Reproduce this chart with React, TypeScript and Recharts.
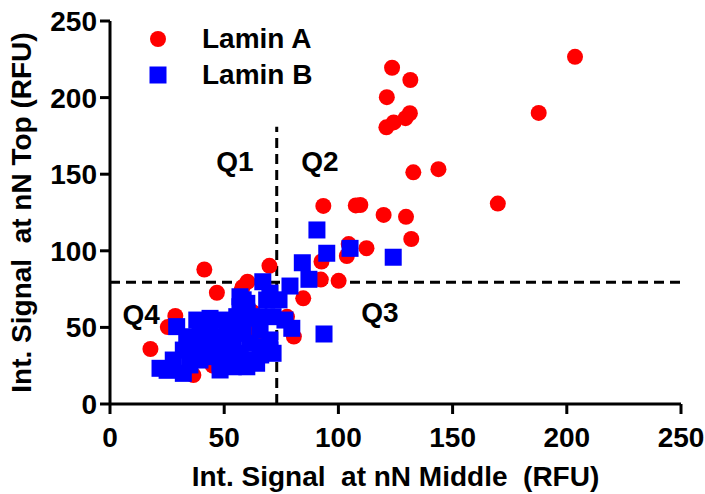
import { ScatterChart, Scatter, XAxis, YAxis, ReferenceLine, ReferenceDot, Legend } from "recharts";

// Lamin A (red circles) — x: signal at nN middle, y: signal at nN top
const laminA = [
  { x: 203.6, y: 226.6 }, { x: 187.7, y: 190 }, { x: 123.5, y: 219.5 }, { x: 131.5, y: 211.5 },
  { x: 121.2, y: 200.3 }, { x: 121, y: 180.6 }, { x: 124.2, y: 183.8 }, { x: 129.4, y: 186.6 },
  { x: 131.3, y: 189.8 }, { x: 132.8, y: 151.2 }, { x: 143.8, y: 153.3 }, { x: 169.8, y: 130.8 },
  { x: 93.4, y: 129.3 }, { x: 107.6, y: 129.6 }, { x: 109.6, y: 129.9 }, { x: 119.8, y: 123.4 },
  { x: 129.6, y: 122.2 }, { x: 131.9, y: 107.7 }, { x: 112.3, y: 101.7 }, { x: 104.5, y: 104.4 },
  { x: 103.7, y: 96.6 }, { x: 92.6, y: 93 }, { x: 92.3, y: 81.2 }, { x: 100.1, y: 80.4 },
  { x: 84.6, y: 69 }, { x: 69.8, y: 90.2 }, { x: 41.3, y: 87.8 }, { x: 46.8, y: 72.6 },
  { x: 60.2, y: 79.8 }, { x: 58, y: 76.2 }, { x: 57.6, y: 74 }, { x: 77.5, y: 56.9 },
  { x: 80.5, y: 44 }, { x: 17.7, y: 35.9 }, { x: 28.6, y: 57.5 }, { x: 25.3, y: 50.2 },
  { x: 36.5, y: 18.9 }, { x: 62.5, y: 60 }, { x: 42.5, y: 36.8 }, { x: 70, y: 73 },
  { x: 61.3, y: 46.3 }, { x: 43.8, y: 37.4 }, { x: 50, y: 45 }, { x: 55, y: 30 },
  { x: 65, y: 40 }, { x: 45, y: 25 },
];

// Lamin B (blue squares)
const laminB = [
  { x: 90.6, y: 113.6 }, { x: 94.9, y: 98.4 }, { x: 105.1, y: 101.6 }, { x: 124, y: 95.8 },
  { x: 84.2, y: 92.2 }, { x: 87.1, y: 81.4 }, { x: 78.8, y: 77 }, { x: 66.9, y: 79.8 },
  { x: 93.7, y: 45.7 }, { x: 79.6, y: 49.4 }, { x: 76.6, y: 54.8 }, { x: 56.9, y: 70 },
  { x: 59.9, y: 65.7 }, { x: 68.6, y: 67.9 }, { x: 71.4, y: 57 }, { x: 29.2, y: 50.5 },
  { x: 38, y: 54.8 }, { x: 43.8, y: 55.9 }, { x: 49.5, y: 54.8 }, { x: 33.6, y: 43.9 },
  { x: 39.4, y: 46.3 }, { x: 55.5, y: 57 }, { x: 46.7, y: 43.9 }, { x: 58.3, y: 46.1 },
  { x: 65.7, y: 48.3 }, { x: 70, y: 41.8 }, { x: 70, y: 35.2 }, { x: 21.9, y: 23.3 },
  { x: 27.7, y: 28.7 }, { x: 32.1, y: 20 }, { x: 35, y: 25.5 }, { x: 39.4, y: 28.7 },
  { x: 43.8, y: 30.9 }, { x: 48.2, y: 26.6 }, { x: 51.1, y: 35.2 }, { x: 54, y: 39.6 },
  { x: 62.7, y: 28.7 }, { x: 54, y: 24.3 }, { x: 59.9, y: 24.3 }, { x: 64.2, y: 26.6 },
  { x: 48.2, y: 22.2 }, { x: 38, y: 35.2 }, { x: 32.1, y: 35.2 }, { x: 58.3, y: 57 },
  { x: 56.9, y: 63.5 }, { x: 43.8, y: 48.3 }, { x: 61.3, y: 39.6 }, { x: 65.7, y: 37.4 },
  { x: 71.4, y: 33.1 }, { x: 56.9, y: 50.5 }, { x: 51.1, y: 46.1 }, { x: 58.3, y: 68 },
  { x: 70, y: 72.4 }, { x: 74, y: 68 }, { x: 62.2, y: 56 }, { x: 65.2, y: 57 },
  { x: 60, y: 60 }, { x: 52, y: 50 }, { x: 47, y: 38 }, { x: 40, y: 40 },
  { x: 35, y: 30 }, { x: 25, y: 22 }, { x: 45, y: 33 }, { x: 53, y: 30 },
  { x: 57, y: 33 }, { x: 66, y: 32 },
];

const axisTicks = [0, 50, 100, 150, 200, 250];
const quadrants = [
  { name: "Q1", x: 54.7, y: 158.6 },
  { name: "Q2", x: 91.9, y: 158.6 },
  { name: "Q3", x: 118.2, y: 60 },
  { name: "Q4", x: 13.6, y: 58.7 },
];
const cutX = 73;
const cutY = 79.4;
const cutXTop = 181;

const FONT = "'Liberation Sans', Arial, Helvetica, sans-serif";
const RED = "#FF0000";
const BLUE = "#0000FF";

const textStyle = { fill: "#000", fontSize: 28, fontWeight: "bold", fontFamily: FONT };

const RedDot = (props: any) => <circle cx={props.cx} cy={props.cy} r={8} fill={RED} />;
const BlueSquare = (props: any) => (
  <rect x={props.cx - 8.5} y={props.cy - 8.5} width={17} height={17} fill={BLUE} />
);

const XTitle = ({ viewBox }: any) => {
  const vb = viewBox ?? { x: 110, y: 404, width: 571 };
  return (
    <text x={vb.x + vb.width / 2} y={vb.y + 82} textAnchor="middle" style={textStyle as any} xmlSpace="preserve">
      Int. Signal{"\u00a0"} at nN Middle{"\u00a0"} (RFU)
    </text>
  );
};

const YTitle = ({ viewBox }: any) => {
  const vb = viewBox ?? { x: 0, y: 21, height: 383 };
  const cx = vb.x + 31;
  const cy = vb.y + vb.height / 2;
  return (
    <text x={cx} y={cy} transform={`rotate(-90 ${cx} ${cy})`} textAnchor="middle" style={textStyle as any}>
      Int. Signal{"\u00a0"} at nN Top (RFU)
    </text>
  );
};

const LegendBox = () => (
  <div style={{ fontFamily: FONT, fontWeight: "bold", fontSize: 28, color: "#000" }}>
    {[
      { label: "Lamin A", icon: <circle cx={10} cy={10} r={8} fill={RED} /> },
      { label: "Lamin B", icon: <rect x={1.5} y={1.5} width={17} height={17} fill={BLUE} /> },
    ].map((l) => (
      <div key={l.label} style={{ display: "flex", alignItems: "center", height: 36, whiteSpace: "nowrap" }}>
        <svg width={20} height={20}>{l.icon}</svg>
        <span style={{ marginLeft: 34, lineHeight: "36px" }}>{l.label}</span>
      </div>
    ))}
  </div>
);

export default function App() {
  return (
    <div style={{ position: "absolute", left: 0, top: 0, width: 705, height: 494, background: "#fff" }}>
      <ScatterChart width={705} height={494} margin={{ top: 21, right: 24, bottom: 0, left: 0 }}>
        <XAxis
          type="number"
          dataKey="x"
          domain={[0, 250]}
          ticks={axisTicks}
          interval={0}
          height={90}
          tickSize={10}
          tickMargin={13}
          axisLine={{ stroke: "#000", strokeWidth: 3 }}
          tickLine={{ stroke: "#000", strokeWidth: 3 }}
          tick={textStyle}
          label={<XTitle />}
        />
        <YAxis
          type="number"
          dataKey="y"
          domain={[0, 250]}
          ticks={axisTicks}
          interval={0}
          width={110}
          tickSize={10}
          tickMargin={3}
          axisLine={{ stroke: "#000", strokeWidth: 3 }}
          tickLine={{ stroke: "#000", strokeWidth: 3 }}
          tick={textStyle}
          label={<YTitle />}
        />
        <Scatter name="Lamin A" data={laminA} shape={RedDot} isAnimationActive={false} />
        <Scatter name="Lamin B" data={laminB} shape={BlueSquare} isAnimationActive={false} />
        <ReferenceLine
          segment={[{ x: cutX, y: 0 }, { x: cutX, y: cutXTop }]}
          stroke="#000"
          strokeWidth={3}
          strokeDasharray="10 6"
        />
        <ReferenceLine y={cutY} stroke="#000" strokeWidth={3} strokeDasharray="10 6" />
        {quadrants.map((q) => (
          <ReferenceDot
            key={q.name}
            x={q.x}
            y={q.y}
            r={1}
            fill="none"
            stroke="none"
            label={{ value: q.name, position: "center", ...textStyle }}
          />
        ))}
        <Legend
          layout="vertical"
          align="center"
          verticalAlign="middle"
          wrapperStyle={{ left: 148, top: 21, width: 220, height: 72 }}
          content={() => <LegendBox />}
        />
      </ScatterChart>
    </div>
  );
}
